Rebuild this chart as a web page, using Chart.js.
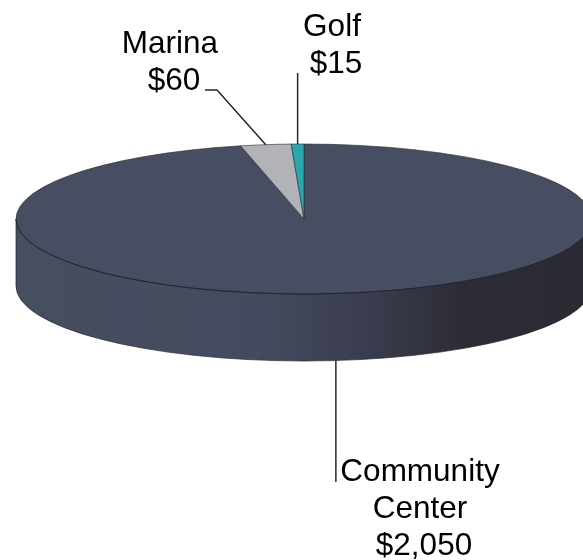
<!DOCTYPE html>
<html>
<head>
<meta charset="utf-8">
<script src="https://cdn.jsdelivr.net/npm/chart.js@4"></script>
<style>
  html, body { margin: 0; padding: 0; background: #fff; }
  canvas { display: block; }
</style>
</head>
<body>
<canvas id="pieChart" width="583" height="560"></canvas>
<script>
var categories = ['Community Center', 'Marina', 'Golf'];
var amounts = [2050, 60, 15];
var sliceColors = ['#474e62', '#b2b3b7', '#27a9ae'];

// how each label breaks over lines, and where its block sits
var labelLines = [['Community', 'Center'], ['Marina'], ['Golf']];
var labelAnchors = [[420, 481], [170, 53], [332, 36]];
var amountShift = [4, 4, 4];

var TILT = 75 / 288;    // squash of the pie into an ellipse
var DEPTH = 67;         // height of the side wall
var FONT = '31.5px "Liberation Sans", Arial, sans-serif';
var LINE = '#26262b';

function money(v) {
  return '$' + v.toLocaleString('en-US');
}

// point on the rim of a slice, at the middle of its angle
function rimPoint(arc) {
  var mid = (arc.startAngle + arc.endAngle) / 2;
  return {
    x: arc.x + Math.cos(mid) * arc.outerRadius,
    y: arc.y + Math.sin(mid) * arc.outerRadius * TILT
  };
}

var tiltedPie = {
  id: 'tiltedPie',
  beforeDatasetsDraw: function (chart) {
    var ctx = chart.ctx;
    var arc = chart.getDatasetMeta(0).data[0];
    var r = arc.outerRadius;
    var ry = r * TILT;

    // side wall, shaded from left to right
    var grad = ctx.createLinearGradient(arc.x - r, 0, arc.x + r, 0);
    grad.addColorStop(0, '#474e60');
    grad.addColorStop(0.42, '#454b5e');
    grad.addColorStop(0.62, '#393c4c');
    grad.addColorStop(0.78, '#2c2c35');
    grad.addColorStop(1, '#2a2a32');
    ctx.save();
    ctx.beginPath();
    ctx.moveTo(arc.x + r, arc.y);
    ctx.ellipse(arc.x, arc.y + DEPTH, r, ry, 0, 0, Math.PI);
    ctx.lineTo(arc.x - r, arc.y);
    ctx.fillStyle = grad;
    ctx.fill();
    ctx.strokeStyle = 'rgba(38,38,45,0.7)';
    ctx.lineWidth = 1;
    ctx.stroke();
    ctx.restore();

    // the slices themselves get drawn through a squashed context
    ctx.save();
    ctx.translate(arc.x, arc.y);
    ctx.scale(1, TILT);
    ctx.translate(-arc.x, -arc.y);
  },
  afterDatasetsDraw: function (chart) {
    var ctx = chart.ctx;
    ctx.restore();

    var arcs = chart.getDatasetMeta(0).data;
    var r = arcs[0].outerRadius;
    var p;

    ctx.save();

    // dark rim where the top face meets the wall
    ctx.strokeStyle = '#24252c';
    ctx.lineWidth = 1;
    ctx.beginPath();
    ctx.ellipse(arcs[0].x, arcs[0].y, r, r * TILT, 0, 0, Math.PI);
    ctx.stroke();

    ctx.strokeStyle = LINE;
    ctx.lineWidth = 1.5;

    // Community Center, straight down from the wall
    p = rimPoint(arcs[0]);
    ctx.beginPath();
    ctx.moveTo(p.x, p.y + DEPTH);
    ctx.lineTo(p.x, 482);
    ctx.stroke();

    // Marina, with a short elbow
    p = rimPoint(arcs[1]);
    ctx.beginPath();
    ctx.moveTo(p.x, p.y);
    ctx.lineTo(217, 90);
    ctx.lineTo(205, 90);
    ctx.stroke();

    // Golf
    p = rimPoint(arcs[2]);
    ctx.beginPath();
    ctx.moveTo(p.x, p.y);
    ctx.lineTo(p.x, 73);
    ctx.stroke();

    // labels
    ctx.fillStyle = '#000';
    ctx.font = FONT;
    ctx.textAlign = 'center';
    ctx.textBaseline = 'alphabetic';
    categories.forEach(function (name, i) {
      var x = labelAnchors[i][0];
      var y = labelAnchors[i][1];
      labelLines[i].forEach(function (text, n) {
        ctx.fillText(text, x, y + n * 37);
      });
      ctx.fillText(money(amounts[i]), x + amountShift[i], y + labelLines[i].length * 37);
    });
    ctx.restore();
  }
};

var ctx = document.getElementById('pieChart').getContext('2d');

var myPieChart = new Chart(ctx, {
  type: 'pie',
  data: {
    labels: categories,
    datasets: [{
      data: amounts,
      backgroundColor: sliceColors,
      borderColor: '#2f3138',
      borderWidth: 1,
      clip: false
    }]
  },
  options: {
    responsive: false,
    animation: false,
    radius: 288,
    layout: { padding: { left: 25, bottom: 122 } },
    plugins: {
      legend: { display: false },
      tooltip: { enabled: false }
    }
  },
  plugins: [tiltedPie]
});
</script>
</body>
</html>
